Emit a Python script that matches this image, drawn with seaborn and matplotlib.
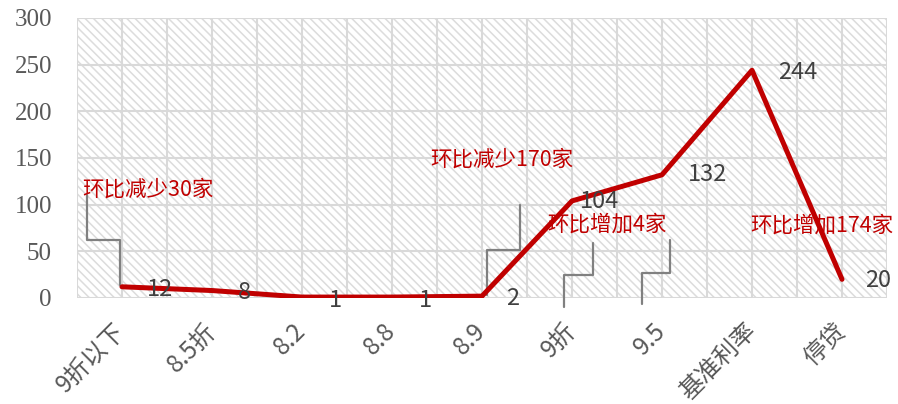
import matplotlib
matplotlib.use("Agg")
import os
import matplotlib.pyplot as plt
import seaborn as sns
import pandas as pd
from matplotlib.patches import Rectangle
from matplotlib import font_manager as fm

categories = ["9折以下", "8.5折", "8.2", "8.8", "8.9", "9折", "9.5", "基准利率", "停贷"]
values = [12, 8, 1, 1, 2, 104, 132, 244, 20]
y_ticks = [0, 50, 100, 150, 200, 250, 300]
notes = ["环比减少30家", "环比减少170家", "环比增加4家", "环比增加174家"]

# label offsets in pixels (position/style, not data)
label_offsets = [(38, -3), (32, -2), (33, -3), (33, -3), (31, -2), (27, -1), (45, 0), (46, -2), (36, -1)]
note_pos = [(-0.44, 116), (3.42, 148), (4.73, 79), (6.98, 78)]
leaders = [
    ([-0.39, -0.39, -0.02, -0.02], [110, 62, 62, 14]),
    ([4.42, 4.42, 4.056, 4.056], [100, 51, 51, 3]),
    ([5.233, 5.233, 4.911, 4.911], [59, 25, 25, -10]),
    ([6.089, 6.089, 5.778, 5.778], [62, 27, 27, -6]),
]

sns.set_style("white")
plt.rcParams['font.family'] = ['Noto Sans CJK SC', 'DejaVu Sans']
plt.rcParams['hatch.linewidth'] = 1.1

serif_path = None
for f in fm.fontManager.ttflist:
    if f.name == "Liberation Serif" and f.style == "normal" and f.weight in (400, "normal", "regular"):
        serif_path = f.fname
        break
if serif_path is None:
    serif_path = os.path.join(matplotlib.get_data_path(), "fonts", "ttf", "DejaVuSerif.ttf")
serif_fp = fm.FontProperties(fname=serif_path, size=18)

df = pd.DataFrame({"cat": categories, "val": values})
df["idx"] = range(len(df))

fig = plt.figure(figsize=(8.98, 4.04), dpi=100)
ax = fig.add_axes([77/898, 106/404, 810/898, 280/404])

bg = Rectangle((0, 0), 1, 1, transform=ax.transAxes, facecolor="white",
               edgecolor="#dcdcdc", hatch="\\\\\\\\", linewidth=0, zorder=0)
ax.add_patch(bg)

sns.lineplot(data=df, x="idx", y="val", ax=ax, color="#C00000", linewidth=3.6,
             sort=False, zorder=4)

ax.set_xlim(-0.5, 8.5)
ax.set_ylim(0, 300)
ax.set_xticks(range(len(categories)))
ax.set_xticklabels(categories, rotation=45, ha="right", va="center",
                   rotation_mode="anchor", color="#595959", fontsize=17.5)
ax.set_xticks([i - 0.5 for i in range(len(categories) + 1)], minor=True)
ax.set_yticks(y_ticks)
ax.set_yticklabels([str(t) for t in y_ticks], fontproperties=serif_fp, color="#595959")
ax.tick_params(axis="x", which="both", length=0, pad=21)
ax.tick_params(axis="y", length=0, pad=18)

ax.grid(True, axis="y", color="#d9d9d9", linewidth=1.5, zorder=1)
ax.grid(True, axis="x", which="both", color="#d9d9d9", linewidth=1.5, zorder=1)
ax.set_axisbelow(True)
for s in ax.spines.values():
    s.set_visible(False)
ax.set_xlabel("")
ax.set_ylabel("")

for i, (v, off) in enumerate(zip(values, label_offsets)):
    ax.annotate(str(v), (i, v), xytext=off, textcoords="offset pixels",
                ha="center", va="center", fontsize=17, color="#404040", zorder=5)

for xs, ys in leaders:
    ax.plot(xs, ys, color="#808080", linewidth=1.6, clip_on=False, zorder=3)

for txt, (x, y) in zip(notes, note_pos):
    ax.text(x, y, txt, ha="left", va="center", fontsize=15.5, color="#C00000", zorder=6)

fig.savefig("out.png", dpi=100)
